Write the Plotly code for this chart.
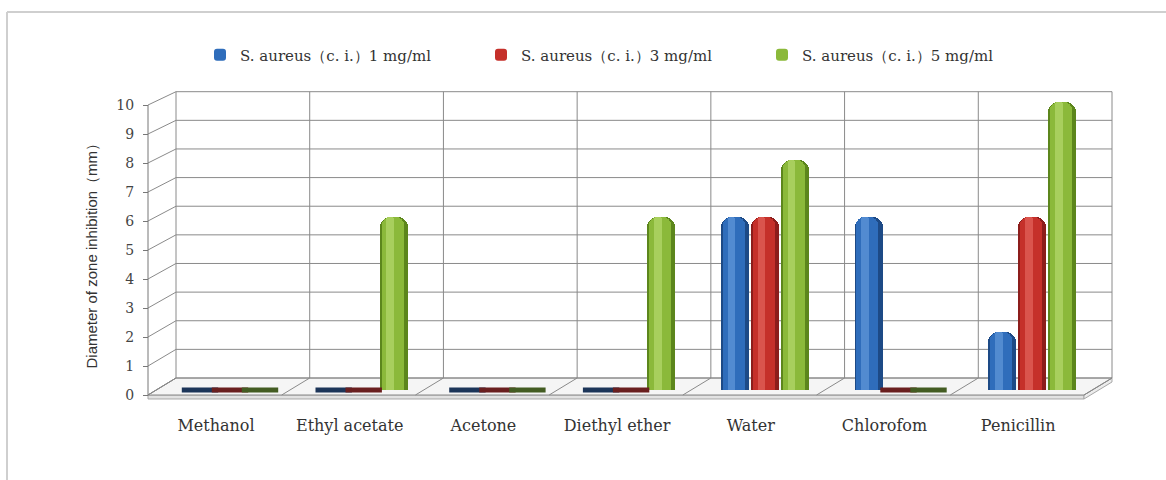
import plotly.graph_objects as go

# ---- data -------------------------------------------------------------
categories = ["Methanol", "Ethyl acetate", "Acetone", "Diethyl ether",
              "Water", "Chlorofom", "Penicillin"]
series_names = ["S. aureus（c. i.）1 mg/ml",
                "S. aureus（c. i.）3 mg/ml",
                "S. aureus（c. i.）5 mg/ml"]
conc_1 = [0, 0, 0, 0, 6, 6, 2]
conc_3 = [0, 0, 0, 0, 6, 0, 6]
conc_5 = [0, 6, 0, 6, 8, 0, 10]
y_ticks = list(range(0, 11))

# ---- styling ------------------------------------------------------------
# (edge, body, highlight, base disc) per series for the cylinder look
palette = [
    ("#1d4a86", "#2f6dbb", "#6198da", "#1c3559"),
    ("#8c1d1b", "#c5302a", "#e2645c", "#6a1f1f"),
    ("#5c861c", "#8bb93a", "#b5d86c", "#435c22"),
]
W, H = 1166, 480
PL, PR, PT, PB = 140, 1125, 88, 400          # plot area in pixels
CAT_PX = 133.7                                 # pixels per category
X0_PX = 230                                    # pixel centre of first group
BAR_W = 28 / CAT_PX
SHIFTS = [-30 / CAT_PX, 0.0, 30 / CAT_PX]


def fx(px):
    return (px - PL) / (PR - PL)


def fy(py):
    return (PB - py) / (PB - PT)


fig = go.Figure()
idx = list(range(len(categories)))

for k, (name, vals) in enumerate(zip(series_names, [conc_1, conc_3, conc_5])):
    edge, body, hi, disc = palette[k]
    s = SHIFTS[k]
    # outer shell
    fig.add_trace(go.Bar(x=idx, y=vals, width=BAR_W, offset=s - BAR_W / 2,
                         marker=dict(color=edge, cornerradius=10, line=dict(width=0)),
                         showlegend=False, legendgroup=name, hoverinfo="skip"))
    # body
    bw = BAR_W * 0.78
    fig.add_trace(go.Bar(x=idx, y=vals, width=bw, offset=s - bw / 2 - BAR_W * 0.04,
                         marker=dict(color=body, cornerradius=8, line=dict(width=0)),
                         name=name, legendgroup=name, showlegend=True))
    # highlight strip
    hw = BAR_W * 0.28
    fig.add_trace(go.Bar(x=idx, y=vals, width=hw, offset=s - hw / 2 - BAR_W * 0.12,
                         marker=dict(color=hi, cornerradius=3, line=dict(width=0)),
                         opacity=0.7, showlegend=False, legendgroup=name,
                         hoverinfo="skip"))
    # base disc for every bar (visible as a flat cylinder where the value is 0)
    zx = [i + s for i, v in zip(idx, vals) if v == 0]
    zy = [v for v in vals if v == 0]
    fig.add_trace(go.Scatter(x=zx, y=zy, mode="markers",
                             marker=dict(symbol="line-ew", size=26,
                                         line=dict(width=5, color=disc)),
                             showlegend=False, hoverinfo="skip"))

# front value axis carrier
fig.add_trace(go.Scatter(x=[None], y=[None], yaxis="y2", showlegend=False,
                         hoverinfo="skip"))

# ---- 3-D box: back wall, side wall, floor --------------------------------
GRID = "#8a8a8a"
BX0, BX1 = 176, 1112            # back wall left/right
DX, DY = -28, 17                # depth offset back -> front


def back_y(v):
    return 378 - 28.63 * v


def front_y(v):
    return 395 - 29.0 * v


shapes = []


def seg(x0, y0, x1, y1, color=GRID, width=1, layer="below"):
    shapes.append(dict(type="line", xref="paper", yref="paper",
                       x0=fx(x0), y0=fy(y0), x1=fx(x1), y1=fy(y1),
                       line=dict(color=color, width=width), layer=layer))


def poly(pts, fill, line_color=GRID, layer="below"):
    path = "M " + " L ".join(f"{fx(x):.5f},{fy(y):.5f}" for x, y in pts) + " Z"
    shapes.append(dict(type="path", xref="paper", yref="paper", path=path,
                       fillcolor=fill, line=dict(color=line_color, width=1),
                       layer=layer))


# floor slab
poly([(BX0 + DX, front_y(0)), (BX1 + DX, front_y(0)), (BX1 + DX, front_y(0) + 4),
      (BX0 + DX, front_y(0) + 4)], "#e2e2e2", line_color="#a8a8a8")
poly([(BX1 + DX, front_y(0)), (BX1, back_y(0)), (BX1, back_y(0) + 4),
      (BX1 + DX, front_y(0) + 4)], "#ececec", line_color="#a8a8a8")
poly([(BX0, back_y(0)), (BX1, back_y(0)), (BX1 + DX, front_y(0)),
      (BX0 + DX, front_y(0))], "#f5f5f5")

# horizontal grid on back wall and slanted lines on side wall
for v in y_ticks:
    seg(BX0, back_y(v), BX1, back_y(v))
    seg(BX0 + DX, front_y(v), BX0, back_y(v))

# vertical dividers on back wall and floor
for i in range(len(categories) + 1):
    xb = BX0 + i * (BX1 - BX0) / len(categories)
    seg(xb, back_y(10), xb, back_y(0))
    seg(xb, back_y(0), xb + DX, front_y(0))

# front edge of the side wall
seg(BX0 + DX, front_y(10), BX0 + DX, front_y(0), color="#777777")

# outer frame
shapes.append(dict(type="line", xref="paper", yref="paper",
                   x0=fx(7), y0=fy(12), x1=fx(W + 5), y1=fy(12),
                   line=dict(color="#cfcfcf", width=2), layer="below"))
shapes.append(dict(type="line", xref="paper", yref="paper",
                   x0=fx(7), y0=fy(12), x1=fx(7), y1=fy(H + 5),
                   line=dict(color="#cfcfcf", width=2), layer="below"))

LABEL_FONT = dict(family="DejaVu Serif", size=16, color="#333333")

fig.update_layout(
    width=W, height=H,
    margin=dict(l=PL, r=W - PR, t=PT, b=H - PB),
    paper_bgcolor="white", plot_bgcolor="white",
    barmode="overlay", bargap=0,
    shapes=shapes,
    xaxis=dict(range=[(PL - X0_PX) / CAT_PX, (PR - X0_PX) / CAT_PX],
               tickvals=[i - 14 / CAT_PX for i in idx], ticktext=categories,
               showgrid=False, zeroline=False, showline=False,
               ticks="outside", ticklen=11, tickcolor="rgba(0,0,0,0)",
               tickfont=LABEL_FONT, fixedrange=True),
    yaxis=dict(range=[-(PB - 390) / 28.8, (390 - PT) / 28.8], visible=False,
               fixedrange=True),
    yaxis2=dict(range=[-(PB - 395) / 29.0, (395 - PT) / 29.0],
                overlaying="y", anchor="free", position=fx(148), side="left",
                tickvals=y_ticks, ticks="outside", ticklen=5, tickcolor="#777777",
                showgrid=False, zeroline=False, showline=False,
                ticklabelstandoff=6,
                tickfont=dict(family="DejaVu Serif", size=14, color="#444444"),
                fixedrange=True),
    legend=dict(orientation="h", x=fx(200), xanchor="left",
                y=fy(55), yanchor="middle",
                entrywidth=236, entrywidthmode="pixels", itemwidth=30,
                font=dict(family="DejaVu Serif", size=15, color="#333333"),
                bgcolor="rgba(0,0,0,0)"),
    annotations=[dict(text="Diameter of zone inhibition（mm）", textangle=-90,
                      xref="paper", yref="paper", x=fx(80), y=fy(252),
                      showarrow=False,
                      font=dict(family="Liberation Sans Narrow, Liberation Sans",
                                size=15, color="#333333"))],
    showlegend=True,
)

fig.write_html("out.html")
